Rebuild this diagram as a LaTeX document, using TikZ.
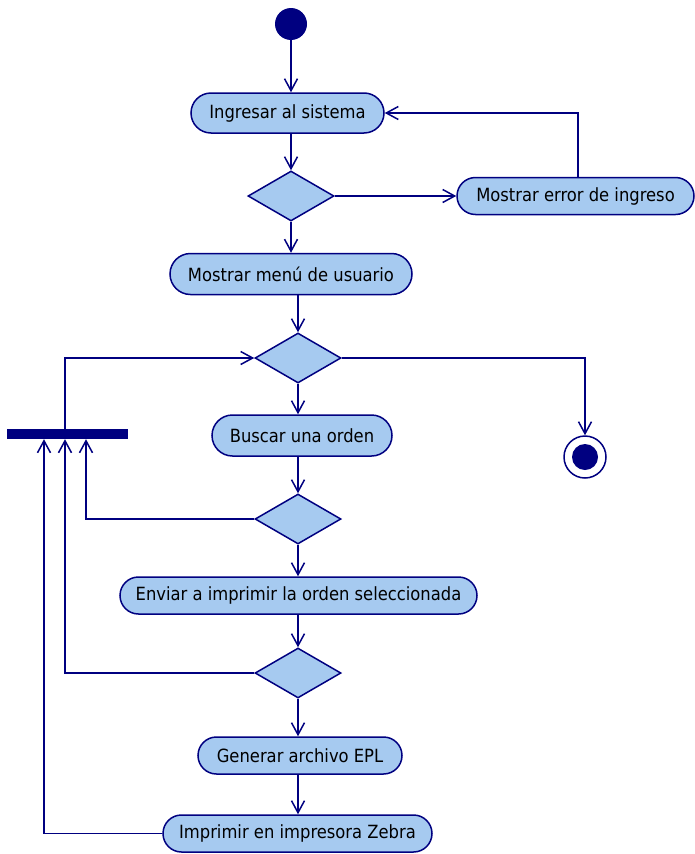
\documentclass[tikz,border=0pt]{standalone}
\usepackage{fontspec}
\setmainfont{DejaVu Sans Condensed}
\usetikzlibrary{shapes.misc,shapes.geometric,arrows.meta}
\definecolor{umlline}{RGB}{0,0,128}
\definecolor{umlfill}{RGB}{166,202,240}
\tikzset{
  act/.style={rounded rectangle, draw=umlline, fill=umlfill, line width=1.5pt,
    inner sep=0pt, minimum height=#1, font=\fontsize{18.2}{20}\selectfont, text=black},
  act/.default=38pt,
  decision/.style={diamond, draw=umlline, fill=umlfill, line width=1.5pt,
    inner sep=0pt, minimum width=86pt, minimum height=50pt, aspect=1.72},
  flow/.style={draw=umlline, line width=1.5pt,
    -{Straight Barb[length=12pt,width=13pt,line width=1.5pt]}},
}
\begin{document}
\begin{tikzpicture}[x=1pt,y=-1pt]
\useasboundingbox (0,0) rectangle (694,854);

% initial and final states
\node[circle, fill=umlline, minimum size=32pt, inner sep=0pt] (start) at (291,24) {};
\node[circle, draw=umlline, line width=1.5pt, fill=white, minimum size=42pt, inner sep=0pt] (fin) at (585,457) {};
\node[circle, fill=umlline, minimum size=26pt, inner sep=0pt] (finin) at (fin) {};

% activities
\node[act=40pt, minimum width=193pt] (n1) at (287.5,113) {Ingresar al sistema};
\node[act=37pt, minimum width=237pt] (e1) at (575.5,196) {Mostrar error de ingreso};
\node[act=41pt, minimum width=242pt] (n2) at (291,274) {Mostrar menú de usuario};
\node[act=41pt, minimum width=180pt] (n3) at (302,435.5) {Buscar una orden};
\node[act=37pt, minimum width=357pt] (n4) at (298.5,595.5) {Enviar a imprimir la orden seleccionada};
\node[act=37pt, minimum width=204pt] (n5) at (300,755.5) {Generar archivo EPL};
\node[act=37pt, minimum width=269pt] (n6) at (297.5,833.5) {Imprimir en impresora Zebra};

% decisions
\node[decision] (d1) at (291,196) {};
\node[decision] (d2) at (298,358) {};
\node[decision] (d3) at (298,519) {};
\node[decision] (d4) at (298,673) {};

% join bar
\node[rectangle, fill=umlline, minimum width=121pt, minimum height=10pt, inner sep=0pt] (bar) at (67.5,434) {};

% flows
\draw[flow] (start.south) -- (start.south |- n1.north);
\draw[flow] (n1.south -| d1) -- (d1.north);
\draw[flow] (d1.east) -- (e1.west);
\draw[flow] ([xshift=2.5pt]e1.north) |- (n1.east);
\draw[flow] (d1.south) -- (d1.south |- n2.north);
\draw[flow] (n2.south -| d2) -- (d2.north);
\draw[flow] (d2.east) -| (fin.north);
\draw[flow] ([xshift=-2.5pt]bar.north) |- (d2.west);
\draw[flow] (d2.south) -- (d2.south |- n3.north);
\draw[flow] (n3.south -| d3) -- (d3.north);
\draw[flow] (d3.west) -| ([xshift=18.5pt]bar.south);
\draw[flow] (d3.south) -- (d3.south |- n4.north);
\draw[flow] (n4.south -| d4) -- (d4.north);
\draw[flow] (d4.west) -| ([xshift=-2.5pt]bar.south);
\draw[flow] (d4.south) -- (d4.south |- n5.north);
\draw[flow] (n5.south -| d4) -- (d4 |- n6.north);
\draw[flow] (n6.west) -| ([xshift=-23.5pt]bar.south);
\end{tikzpicture}
\end{document}
